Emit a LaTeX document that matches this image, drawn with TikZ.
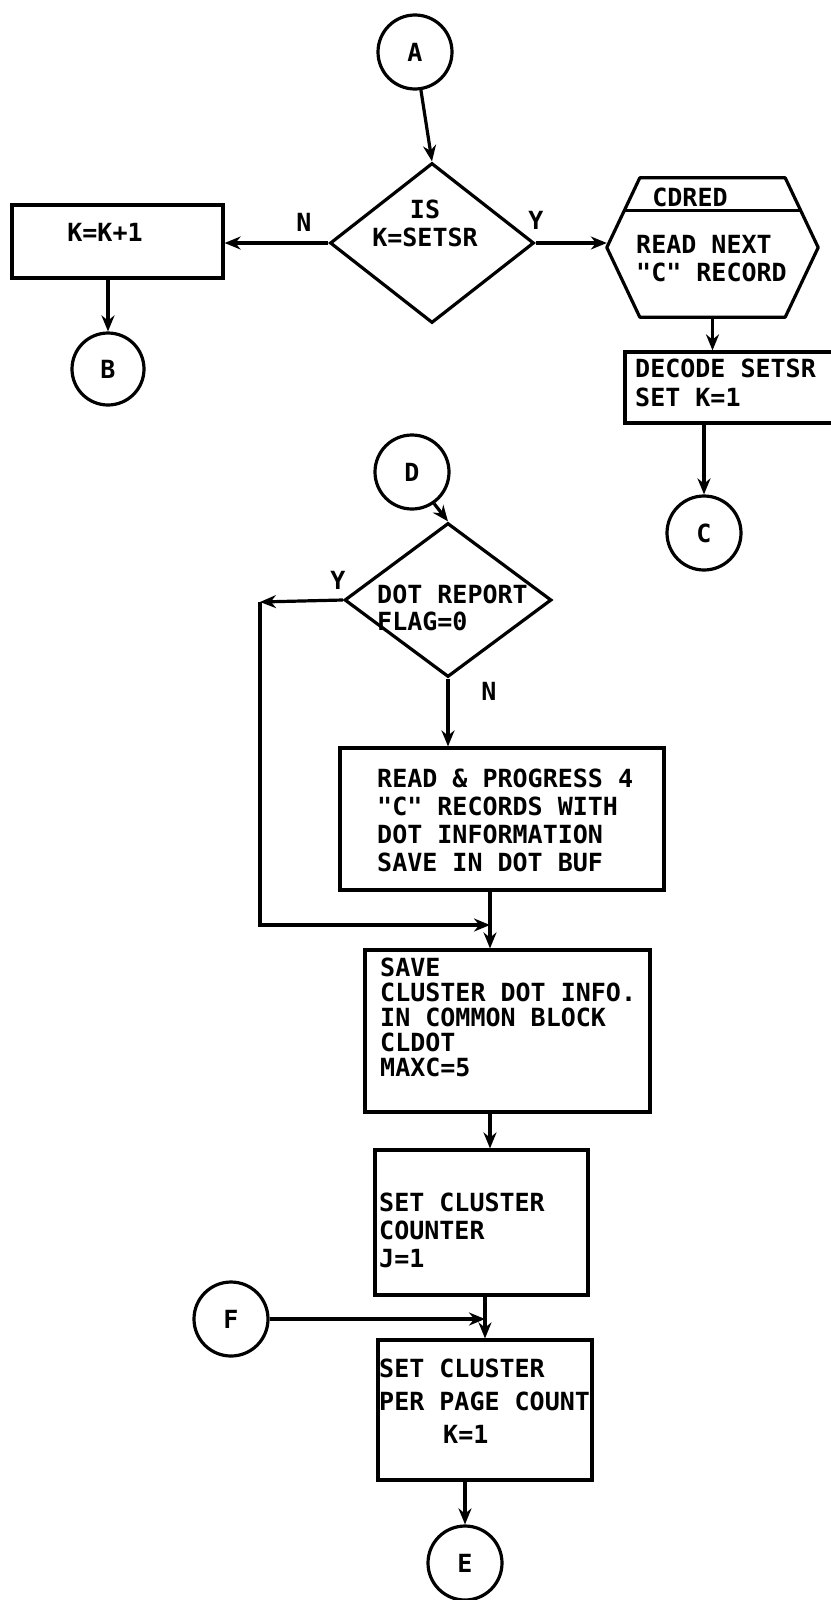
\documentclass[tikz,border=0pt]{standalone}
\usepackage{fontspec}
\setmonofont{DejaVu Sans Mono}
\usetikzlibrary{arrows.meta,shapes.geometric,calc}
\tikzset{
  ln/.style={line width=3.2pt},
  arr/.style={ln,-{Stealth[length=16pt,width=13pt]}},
  txt/.style={inner sep=0pt,align=left,font={\ttfamily\bfseries\fontsize{25}{#1}\selectfont}},
  txt/.default=28,
  conn/.style={draw,circle,ln,minimum size=74pt,inner sep=0pt,font={\ttfamily\bfseries\fontsize{25}{28}\selectfont}},
  boxshape/.style={draw,rectangle,ln,inner sep=0pt},
  dia/.style={draw,diamond,ln,inner sep=0pt},
}
\begin{document}
\begin{tikzpicture}[x=1pt,y=-1pt]
\useasboundingbox (0,0) rectangle (830,1600);
% top part
\node[conn] (a) at (415,52) {A};
\node[dia,minimum width=204pt,minimum height=160pt] (d1) at (432,243) {};
\node[txt,align=center] (d1t) at (425,223) {IS\\K=SETSR};
\node[boxshape,minimum width=211pt,minimum height=73pt] (kbox) at (117.5,241.5) {};
\node[txt] (kboxt) at (105,232) {K=K+1};
\node[conn,minimum size=72pt] (b) at (108,369) {B};
\node[txt] (nl1) at (304,222) {N};
\node[txt] (yl1) at (536,220) {Y};
% hexagon
\node[minimum width=211pt,minimum height=139pt,inner sep=0pt] (hex) at (712.5,247.5) {};
\draw[ln,line join=round] ($(hex.north west)+(33,0)$) -- ($(hex.north east)+(-33,0)$) -- (hex.east)
  -- ($(hex.south east)+(-33,0)$) -- ($(hex.south west)+(33,0)$) -- (hex.west) -- cycle;
\draw[ln] ($(hex.north west)+(17.3,33)$) -- ($(hex.north east)+(-17.3,33)$);
\node[txt] (cdred) at (690,197) {CDRED};
\node[txt,anchor=west] (hext) at (636,259) {READ NEXT\\"C" RECORD};
\node[boxshape,minimum width=210pt,minimum height=71pt] (dec) at (730,387.5) {};
\node[txt=29,anchor=west] (dect) at (635,382.5) {DECODE SETSR\\SET K=1};
\node[conn] (c) at (704,533) {C};
% middle part
\node[conn] (d) at (412,472) {D};
\node[dia,minimum width=207pt,minimum height=154pt] (d2) at (448,600) {};
\node[txt=27,anchor=west] (d2t) at (377,607.5) {DOT REPORT\\FLAG=0};
\node[txt] (yl2) at (338,580) {Y};
\node[txt] (nl2) at (489,691) {N};
\coordinate (loopc) at (260,602);
\coordinate (m1) at (490,925);
\node[boxshape,minimum width=324pt,minimum height=142pt] (read) at (502,819) {};
\node[txt=28,anchor=west] (readt) at (377,820) {READ \& PROGRESS 4\\"C" RECORDS WITH\\DOT INFORMATION\\SAVE IN DOT BUF};
\node[boxshape,minimum width=285pt,minimum height=162pt] (save) at (507.5,1031) {};
\node[txt=25,anchor=west] (savet) at (380,1017) {SAVE\\CLUSTER DOT INFO.\\IN COMMON BLOCK\\CLDOT\\MAXC=5};
\node[boxshape,minimum width=213pt,minimum height=145pt] (b3) at (481.5,1222.5) {};
\node[txt=28,anchor=west] (b3t) at (379,1230) {SET CLUSTER\\COUNTER\\J=1};
\node[conn] (f) at (231,1319) {F};
\coordinate (m2) at (485,1314);
\node[boxshape,minimum width=214pt,minimum height=140pt] (b4) at (485,1410) {};
\node[txt=33,anchor=west] (b4t) at (379,1401.5) {SET CLUSTER\\PER PAGE COUNT\\\hspace*{64pt}K=1};
\node[conn] (e) at (465,1563) {E};
% connectors
\draw[arr] (a) -- (d1.north);
\draw[arr] (d1.west) -- (d1.west -| kbox.east);
\draw[arr] (b.north |- kbox.south) -- (b.north);
\draw[arr] (d1.east) -- (d1.east -| hex.west);
\draw[arr] (hex.south) -- (hex.south |- dec.north);
\draw[arr] (c.north |- dec.south) -- (c.north);
\draw[arr] (d.-55) -- (d2.north);
\draw[arr] (d2.west) -- (loopc);
\draw[arr] (loopc) |- (m1);
\draw[arr] (m1 |- read.south) -- (m1 |- save.north);
\draw[arr] (d2.south) -- (d2.south |- read.north);
\draw[arr] (m1 |- save.south) -- (m1 |- b3.north);
\draw[arr] (m2 |- b3.south) -- (m2 |- b4.north);
\draw[arr] (f.east) -- (f.east -| m2);
\draw[arr] (e.north |- b4.south) -- (e.north);
\end{tikzpicture}
\end{document}
